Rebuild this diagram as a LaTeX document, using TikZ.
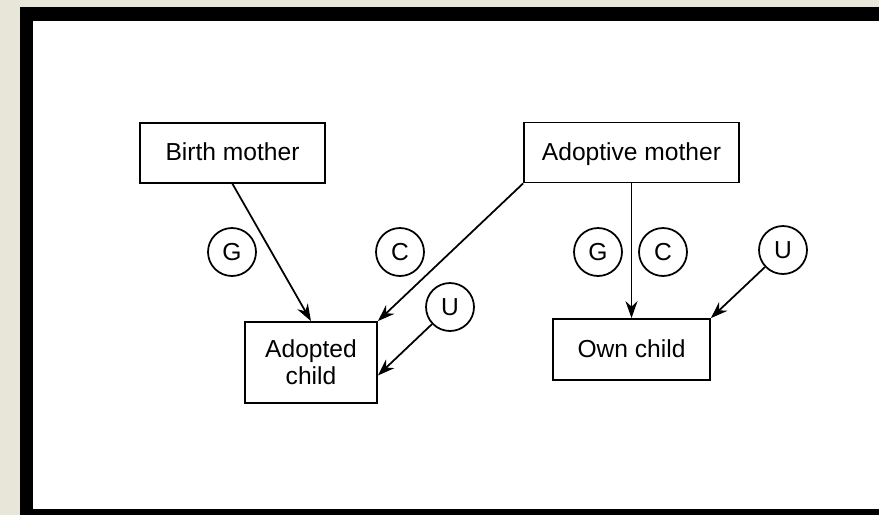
\documentclass[tikz,border=0pt]{standalone}
\usepackage{fontspec}
\setmainfont{Liberation Sans}
\usepackage{xcolor}
\usepackage{tikz}
\usetikzlibrary{arrows.meta}
\definecolor{paper}{RGB}{232,230,216}

\begin{document}
\begin{tikzpicture}[x=0.02cm,y=-0.02cm,->,>={Stealth[length=3.4mm,width=2.4mm]},line width=1pt,
  box/.style={rectangle,draw,minimum height=1.2cm,align=center,font=\fontsize{14}{15.5}\selectfont},
  one/.style={text height=10pt,text depth=1pt},
  var/.style={circle,draw,minimum size=0.96cm,inner sep=0pt,font=\fontsize{14}{15.5}\selectfont}]
\useasboundingbox (0,0) rectangle (879,515);
\fill[paper] (0,0) rectangle (879,515);
\fill[black] (20,7) rectangle (879,515);
\fill[white] (33,21) rectangle (879,509);
\node[box,one,minimum width=3.7cm] (bm) at (232.5,153) {Birth mother};
\node[box,one,minimum width=4.3cm] (am) at (631.5,152.5) {Adoptive mother};
\node[box,minimum width=2.64cm,minimum height=1.62cm] (ac) at (311,362.5) {Adopted\\child};
\node[box,one,minimum width=3.14cm,minimum height=1.22cm] (oc) at (631.5,349.5) {Own child};
% influences
\node[var] (gl) at (232,252) {G};
\node[var] (cl) at (400,252) {C};
\node[var] (ul) at (450,307) {U};
\node[var] (gr) at (598,252) {G};
\node[var] (cr) at (663,252) {C};
\node[var] (ur) at (783,250) {U};
\draw (bm.south)--(ac.north);\draw (am.south west)--(ac.north east);
\draw (ul)--([yshift=-0.26cm]ac.east);
\draw (am.south)--(oc.north);\draw (ur)--(oc.north east);
\end{tikzpicture}
\end{document}
